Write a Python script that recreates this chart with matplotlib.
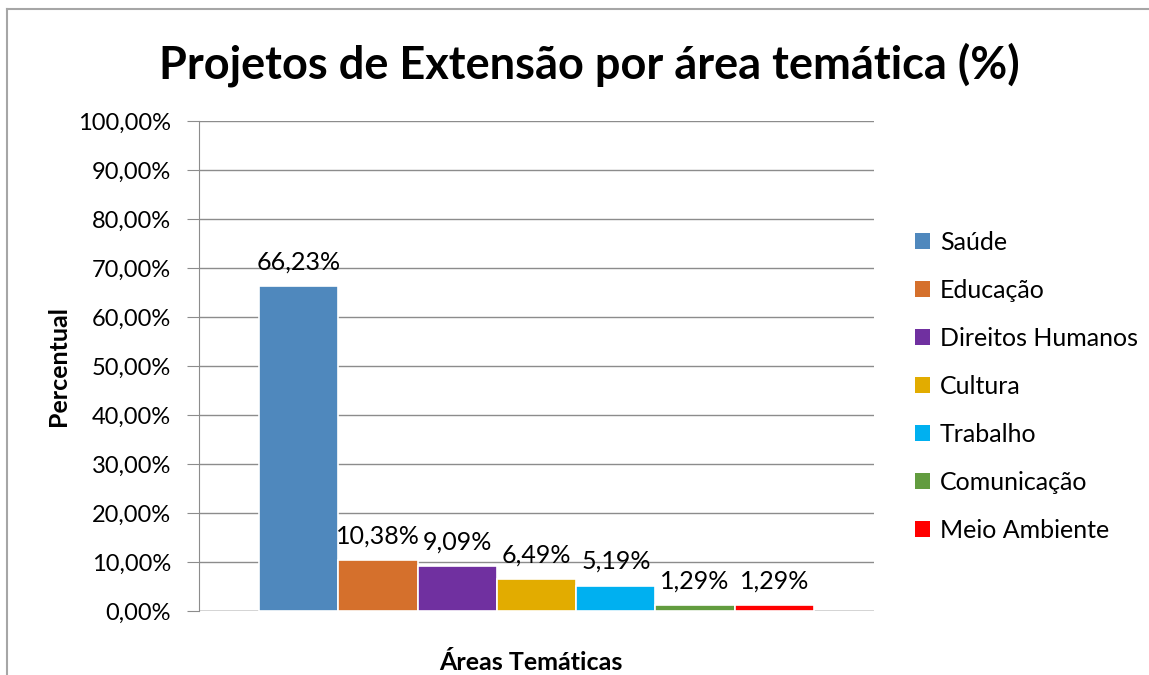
import matplotlib
matplotlib.use("Agg")
import matplotlib.pyplot as plt
from matplotlib.patches import Patch
from matplotlib.lines import Line2D
from matplotlib.ticker import FuncFormatter, MultipleLocator

categories = ["Saúde", "Educação", "Direitos Humanos", "Cultura", "Trabalho", "Comunicação", "Meio Ambiente"]
values = [66.23, 10.38, 9.09, 6.49, 5.19, 1.29, 1.29]
colors = ["#4F88BD", "#D5702C", "#7030A0", "#E2AC00", "#00B0F0", "#629C3F", "#FF0000"]
title = "Projetos de Extensão por área temática (%)"
ylabel = "Percentual"
xlabel = "Áreas Temáticas"

plt.rcParams['font.family'] = ['Lato', 'DejaVu Sans']

W, H = 1149, 675
fig = plt.figure(figsize=(W / 100, H / 100), dpi=100)
ax = fig.add_axes([199 / W, 1 - 611 / H, (874 - 199) / W, (611 - 121) / H])

gap = 0.755
xs = [gap + 0.5 + i for i in range(len(values))]
ax.bar(xs, values, width=1.0, color=colors, edgecolor="white", linewidth=1.2, zorder=3)
ax.set_xlim(0, 2 * gap + len(values))
ax.set_ylim(0, 100)
ax.yaxis.set_major_locator(MultipleLocator(10))
ax.yaxis.set_major_formatter(FuncFormatter(lambda v, p: f"{v:.2f}%".replace(".", ",")))
ax.grid(axis="y", color="#8c8c8c", linewidth=1.0, zorder=0)
ax.set_xticks([])
for s in ["top", "right", "bottom"]:
    ax.spines[s].set_visible(False)
ax.spines["left"].set_color("#8c8c8c")
ax.tick_params(axis="y", length=9, color="#8c8c8c", labelsize=17, pad=11)
ax.axhline(0, color="#8c8c8c", linewidth=1.0, zorder=1)

for x, v in zip(xs, values):
    ax.annotate(f"{v:.2f}%".replace(".", ","), (x, v), xytext=(0, 9), textcoords="offset points",
                ha="center", va="bottom", fontsize=18, zorder=4)

fig.text(589 / W, 1 - 65 / H, title, ha="center", va="center", fontsize=32.5, fontweight="bold")
fig.text(58 / W, 1 - 366 / H, ylabel, ha="center", va="center", rotation=90, fontsize=18, fontweight="bold")
fig.text(531 / W, 1 - 662 / H, xlabel, ha="center", va="center", fontsize=18, fontweight="bold")

handles = [Patch(facecolor=c, edgecolor="none") for c in colors]
fig.legend(handles, categories, loc="center left", bbox_to_anchor=(915 / W, 1 - 386 / H),
           frameon=False, fontsize=18, handlelength=0.6, handleheight=0.6, handletextpad=0.4,
           labelspacing=1.0, borderpad=0, borderaxespad=0)

fig.add_artist(Line2D([7 / W, 7 / W], [0, 1 - 9 / H], color="#a6a6a6", linewidth=1.5, transform=fig.transFigure))
fig.add_artist(Line2D([7 / W, 1], [1 - 9 / H, 1 - 9 / H], color="#a6a6a6", linewidth=1.5, transform=fig.transFigure))

fig.savefig("out.png", dpi=100, facecolor="white")
